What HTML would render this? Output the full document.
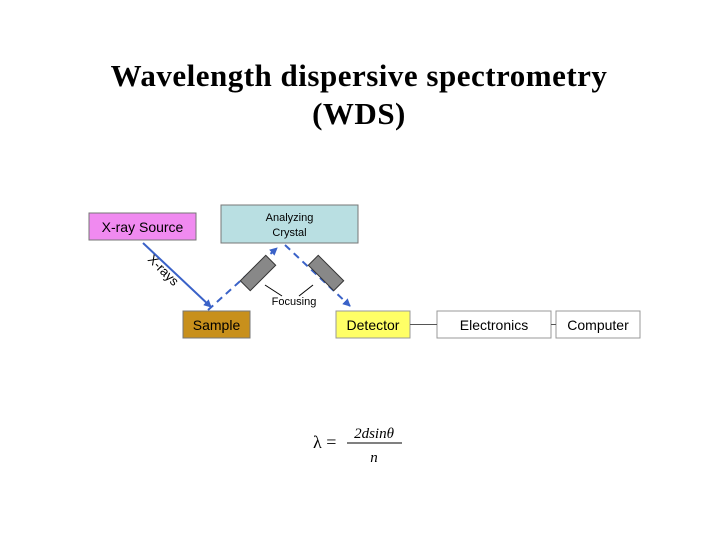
<html><body style="margin:0;width:720px;height:540px;background:#fff;overflow:hidden;position:relative">
<div style="position:absolute;top:57px;left:0;width:718px;text-align:center;font:bold 31px/38px 'Liberation Serif',serif;color:#000;letter-spacing:0.5px">Wavelength dispersive spectrometry<br>(WDS)</div>
<svg width="720" height="540" style="position:absolute;left:0;top:0" font-family="Liberation Sans,sans-serif">
<defs><marker id="a" markerWidth="8" markerHeight="8" refX="7" refY="4" orient="auto" markerUnits="userSpaceOnUse"><path d="M0,0L8,4L0,8z" fill="#3a62c8"/></marker></defs>
<rect x="89" y="213" width="107" height="27" fill="#f08af0" stroke="#777"/>
<text x="142.5" y="232" font-size="14" text-anchor="middle">X-ray Source</text>
<rect x="221" y="205" width="137" height="38" fill="#b9dfe2" stroke="#777"/>
<text x="289.5" y="221" font-size="11" text-anchor="middle">Analyzing</text>
<text x="289.5" y="236" font-size="11" text-anchor="middle">Crystal</text>
<rect x="183" y="311" width="67" height="27" fill="#c8901c" stroke="#777"/>
<text x="216.5" y="330" font-size="14" text-anchor="middle">Sample</text>
<rect x="336" y="311" width="74" height="27" fill="#ffff66" stroke="#999"/>
<text x="373" y="330" font-size="14" text-anchor="middle">Detector</text>
<rect x="437" y="311" width="114" height="27" fill="#fff" stroke="#999"/>
<text x="494" y="330" font-size="14" text-anchor="middle">Electronics</text>
<rect x="556" y="311" width="84" height="27" fill="#fff" stroke="#999"/>
<text x="598" y="330" font-size="14" text-anchor="middle">Computer</text>
<line x1="410" y1="324.5" x2="437" y2="324.5" stroke="#555"/>
<line x1="551" y1="324.5" x2="556" y2="324.5" stroke="#555"/>
<line x1="143" y1="243" x2="211" y2="307" stroke="#3a62c8" stroke-width="2" marker-end="url(#a)"/>
<line x1="208" y1="310" x2="277" y2="248" stroke="#3a62c8" stroke-width="2" stroke-dasharray="7,5" marker-end="url(#a)"/>
<line x1="285" y1="245" x2="350" y2="306" stroke="#3a62c8" stroke-width="2" stroke-dasharray="7,5" marker-end="url(#a)"/>
<rect x="240" y="266" width="36" height="14" fill="#888" stroke="#333" transform="rotate(-45 258 273)"/>
<rect x="308" y="266" width="36" height="14" fill="#888" stroke="#333" transform="rotate(45 326 273)"/>
<line x1="265" y1="285" x2="282" y2="296" stroke="#000"/>
<line x1="313" y1="285" x2="299" y2="296" stroke="#000"/>
<text x="294" y="305" font-size="11" text-anchor="middle">Focusing</text>
<text x="0" y="0" font-size="13" transform="translate(147 260) rotate(45)">X-rays</text>
<text x="313" y="448" font-size="18" font-family="Liberation Serif,serif">λ =</text>
<text x="374" y="438" font-size="15" font-style="italic" font-family="Liberation Serif,serif" text-anchor="middle">2dsinθ</text>
<line x1="347" y1="443" x2="402" y2="443" stroke="#000"/>
<text x="374" y="462" font-size="15" font-style="italic" font-family="Liberation Serif,serif" text-anchor="middle">n</text>
</svg>
</body></html>
